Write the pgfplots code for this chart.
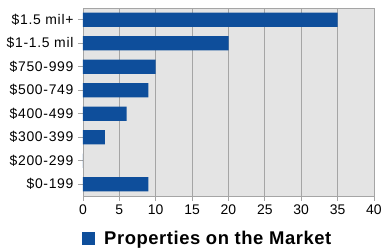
\documentclass[border=0pt]{standalone}
\usepackage{pgfplots}
\pgfplotsset{compat=1.18}
\usepackage{fontspec}
\setmainfont{Liberation Sans}
\newfontfamily\tickfont[LetterSpace=5]{Liberation Sans}
\newfontfamily\legfont[LetterSpace=3]{Liberation Sans}
\definecolor{barblue}{RGB}{14,78,155}
\definecolor{bggray}{RGB}{228,228,228}
\definecolor{gridgray}{RGB}{165,165,165}
\begin{document}
\begin{tikzpicture}
\begin{axis}[
  name=ax,
  scale only axis,
  width=291bp, height=188bp,
  xbar,
  xmin=0, xmax=40,
  ymin=-0.5, ymax=7.5,
  bar width=0.6,
  axis background/.style={fill=bggray},
  axis line style={gridgray},
  xtick={0,5,...,40},
  ytick={0,...,7},
  yticklabels={\$0-199,\$200-299,\$300-399,\$400-499,\$500-749,\$750-999,\$1-1.5 mil,\$1.5 mil+},
  xmajorgrids,
  major grid style={gridgray, line width=0.8pt},
  tick style={gridgray, line width=0.8pt},
  tick align=outside,
  major tick length=5bp,
  xtick pos=bottom, ytick pos=left,
  /pgf/number format/assume math mode=true,
  tick label style={font=\fontsize{14}{16}\selectfont, text=black},
  yticklabel style={xshift=-1bp, font=\tickfont\fontsize{14}{16}\selectfont},
  legend style={at={(0,0)}, anchor=west, xshift=-1bp, yshift=-43bp, draw=none, fill=none,
    font=\legfont\fontsize{18.5}{20}\selectfont\bfseries, inner sep=0pt,
    /tikz/every even column/.append style={column sep=0pt}},
  legend image code/.code={\fill[barblue] (0bp,-6.5bp) rectangle (13bp,6.5bp);},
  legend cell align=left,
]
\addplot[fill=barblue, draw=none] coordinates {
  (9,0) (0,1) (3,2) (6,3) (9,4) (10,5) (20,6) (35,7)
};
\addlegendentry{\hspace{7bp}Properties on the Market}
\end{axis}
\pgfresetboundingbox
\path[use as bounding box] ([shift={(-83bp,-54bp)}]ax.south west) rectangle ([shift={(11bp,8bp)}]ax.north east);
\end{tikzpicture}
\end{document}
